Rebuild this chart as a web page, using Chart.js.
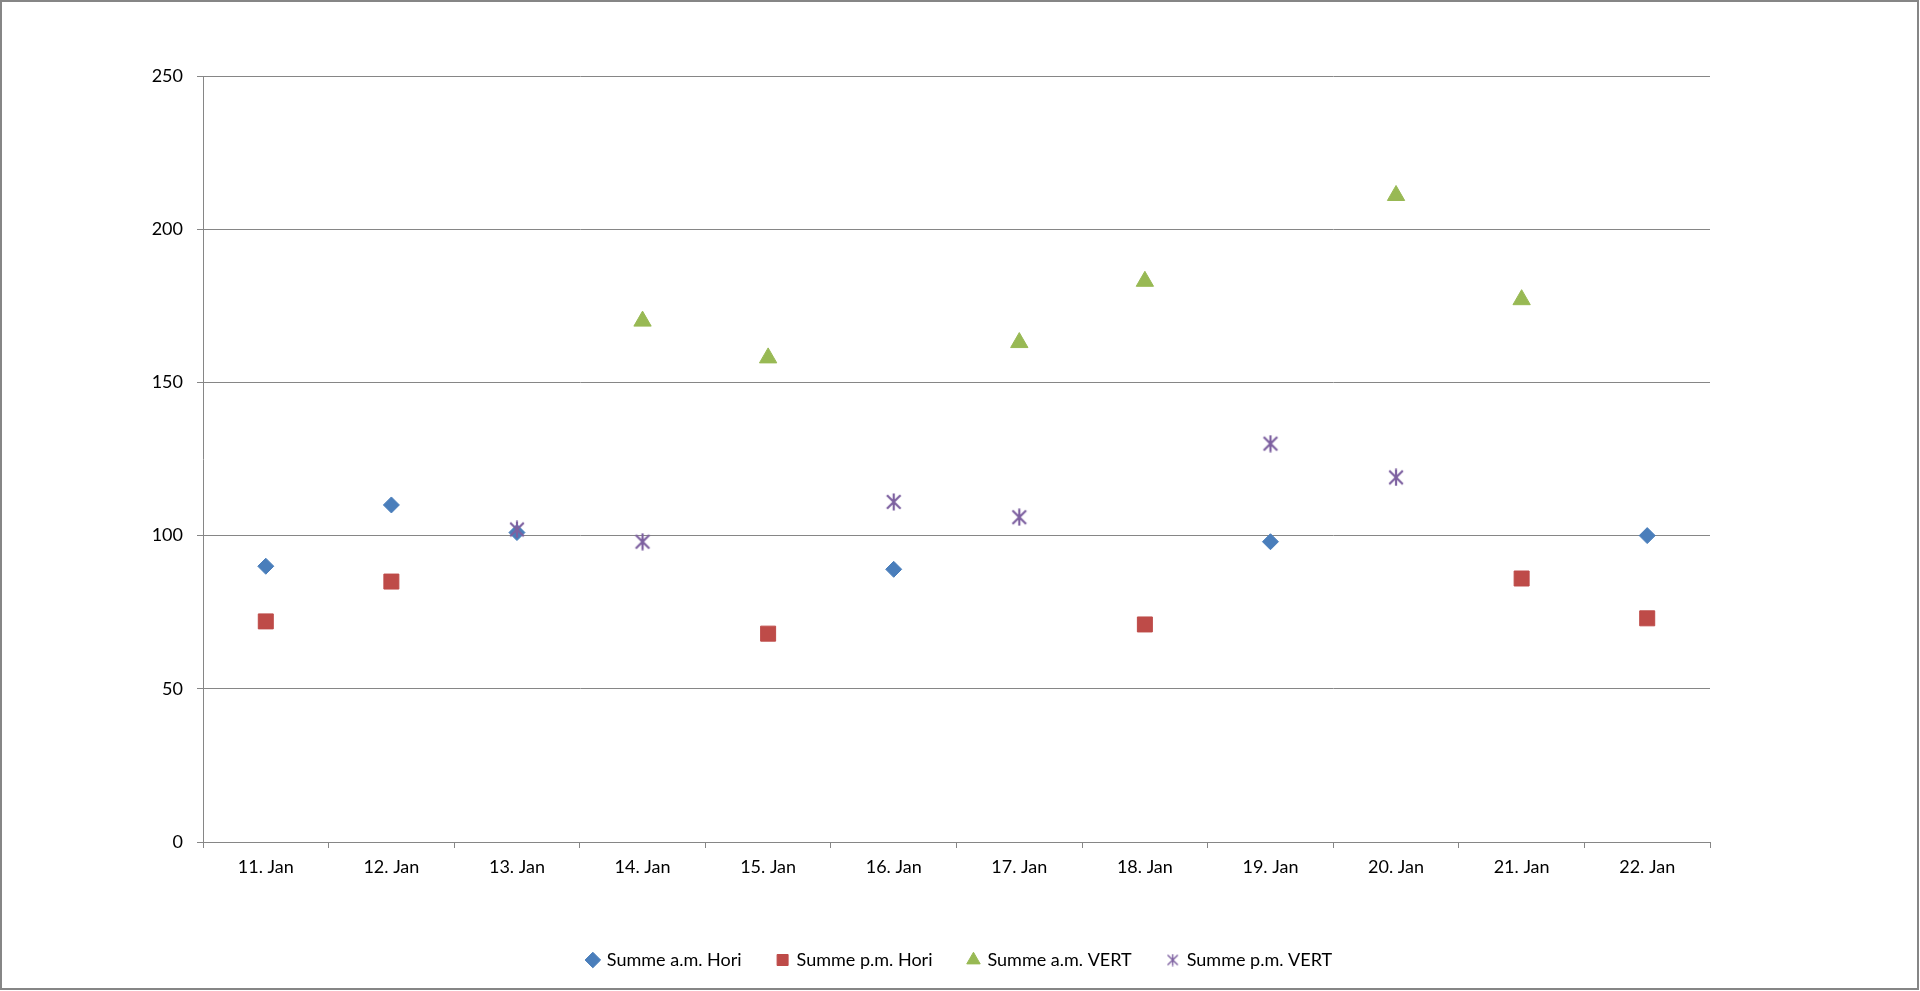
<!DOCTYPE html>
<html>
<head>
<meta charset="utf-8">
<script src="https://cdn.jsdelivr.net/npm/chart.js@4.4.1/dist/chart.umd.min.js"></script>
<style>
  html, body { margin: 0; padding: 0; background: #fff; overflow: hidden; }
  #wrap { position: absolute; left: 0; top: 0; width: 1920px; height: 991px; }
</style>
</head>
<body>
<div id="wrap"><canvas id="scatterChart"></canvas></div>
<script>
const days = ['11. Jan', '12. Jan', '13. Jan', '14. Jan', '15. Jan', '16. Jan', '17. Jan', '18. Jan', '19. Jan', '20. Jan', '21. Jan', '22. Jan'];
const amHori = [90, 110, 101, null, null, 89, null, null, 98, null, null, 100];
const pmHori = [72, 85, null, null, 68, null, null, 71, null, null, 86, 73];
const amVert = [null, null, null, 170, 158, null, 163, 183, null, 211, 177, null];
const pmVert = [null, null, 102, 98, null, 111, 106, null, 130, 119, null, null];
const seriesNames = ['Summe a.m. Hori', 'Summe p.m. Hori', 'Summe a.m. VERT', 'Summe p.m. VERT'];
const yTicks = [0, 50, 100, 150, 200, 250];

const blue = '#4a7ebb';
const red = '#be4b48';
const green = '#98b954';
const purple = '#7d60a0';
const gray = '#868686';

// excel style star marker: X plus a vertical stroke
function makeStar(size, lw){
  const c = document.createElement('canvas');
  c.width = size; c.height = size;
  const g = c.getContext('2d');
  g.strokeStyle = purple;
  g.lineWidth = lw;
  const m = lw;
  g.beginPath();
  g.moveTo(m, m); g.lineTo(size - m, size - m);
  g.moveTo(size - m, m); g.lineTo(m, size - m);
  g.moveTo(size / 2, 0.5); g.lineTo(size / 2, size - 0.5);
  g.stroke();
  return c;
}
const starBig = makeStar(18, 2.2);
const starSmall = makeStar(13, 1.4);

const frame = {
  id: 'frame',
  afterDraw(chart){
    const c = chart.ctx;
    c.save();
    c.strokeStyle = gray;
    c.lineWidth = 2;
    c.strokeRect(1, 1, 1917, 988);
    c.restore();
  }
};

function renderChart(){
  const ctx = document.getElementById('scatterChart');
  Chart.defaults.font.family = 'Lato, "Open Sans", sans-serif';
  Chart.defaults.font.size = 18;
  Chart.defaults.color = '#000';

  new Chart(ctx, {
    type: 'line',
    data: {
      labels: days,
      datasets: [
        { label: seriesNames[0], data: amHori, pointStyle: 'rectRot', pointRadius: 8, backgroundColor: blue, borderColor: blue, pointBorderWidth: 1 },
        { label: seriesNames[1], data: pmHori, pointStyle: 'rect', pointRadius: 10.6, backgroundColor: red, borderColor: red, pointBorderWidth: 1 },
        { label: seriesNames[2], data: amVert, pointStyle: 'triangle', pointRadius: 10, backgroundColor: green, borderColor: green, pointBorderWidth: 1 },
        { label: seriesNames[3], data: pmVert, pointStyle: starBig, pointRadius: 8, backgroundColor: purple, borderColor: purple, order: -1 }
      ]
    },
    options: {
      responsive: true,
      maintainAspectRatio: false,
      animation: false,
      showLine: false,
      layout: {
        padding: { top: 76, bottom: 12, left: 0, right: 0 }
      },
      scales: {
        x: {
          offset: true,
          grid: {
            offset: true,
            drawOnChartArea: false,
            drawTicks: true,
            tickLength: 6,
            color: gray
          },
          border: { display: true, color: gray, width: 1 },
          ticks: { padding: 8, maxRotation: 0, autoSkip: false },
          afterFit(s){ s.height = 73; }
        },
        y: {
          min: 0,
          max: 250,
          afterBuildTicks(s){ s.ticks = yTicks.map(v => ({ value: v })); },
          grid: { color: gray, tickLength: 6 },
          border: { display: true, color: gray, width: 1 },
          ticks: { padding: 14 },
          afterFit(s){ s.width = 203; }
        },
        yRight: {
          position: 'right',
          display: true,
          grid: { display: false },
          border: { display: false },
          ticks: { display: false },
          afterFit(s){ s.width = 210; }
        }
      },
      plugins: {
        legend: {
          position: 'bottom',
          labels: {
            usePointStyle: true,
            boxWidth: 10,
            boxHeight: 11,
            padding: 36,
            sort: (a, b) => a.datasetIndex - b.datasetIndex,
            generateLabels(chart){
              const items = Chart.defaults.plugins.legend.labels.generateLabels(chart);
              items.forEach(it => { if (it.datasetIndex === 3) it.pointStyle = starSmall; });
              return items;
            }
          }
        },
        tooltip: { enabled: false }
      }
    },
    plugins: [frame]
  });
}

renderChart();
</script>
</body>
</html>
